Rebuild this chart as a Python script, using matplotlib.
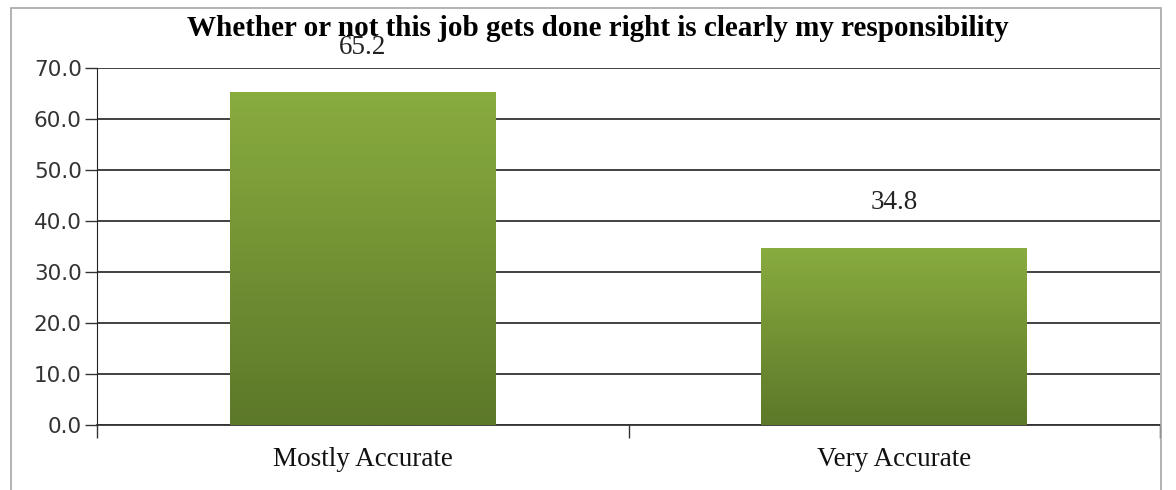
import numpy as np
import matplotlib.pyplot as plt
from matplotlib.patches import Rectangle
from matplotlib.colors import LinearSegmentedColormap

categories = ['Mostly Accurate', 'Very Accurate']
values = [65.2, 34.8]
yticks = [0, 10, 20, 30, 40, 50, 60, 70]

fig = plt.figure(figsize=(11.76, 4.9), dpi=100)
fig.patches.append(Rectangle((11/1176, -0.1), 1150/1176, 1.1 - 8/490, transform=fig.transFigure,
                             fill=False, edgecolor='#a6a6a6', linewidth=1.2))
ax = fig.add_axes([97/1176, 65/490, 1063/1176, 357/490])

x = np.arange(len(categories))
grad = LinearSegmentedColormap.from_list('g', ['#5c7829', '#89ac3f'])
bars = ax.bar(x, values, width=0.5, color='none', zorder=3)
for b in bars:
    x0, y0 = b.get_x(), b.get_y()
    w, h = b.get_width(), b.get_height()
    im = ax.imshow(np.linspace(0, 1, 256).reshape(-1, 1), cmap=grad, origin='lower',
                   extent=[x0, x0 + w, y0, y0 + h], aspect='auto', zorder=3)
    im.set_clip_path(b)

# value labels sit just under the title, as in the original
for xi, v in zip(x, values):
    ax.text(xi, v + 8.9, f'{v:.1f}', ha='center', va='center', fontsize=19.5,
            family='Liberation Serif', color='#222222', zorder=4)

ax.set_xlim(-0.5, 1.5)
ax.set_ylim(0, 70)
ax.set_yticks(yticks)
ax.set_yticklabels([f'{t:.1f}' for t in yticks], fontsize=15.5, color='#333333', family='DejaVu Sans')
ax.yaxis.grid(True, color='#333333', linewidth=1.3, zorder=0)
ax.set_axisbelow(True)

ax.set_xticks([-0.5, 0.5, 1.5])
ax.set_xticklabels([])
ax.set_xticks(x, minor=True)
ax.set_xticklabels(categories, minor=True, fontsize=19.5, family='Liberation Serif', color='#111111')
ax.tick_params(axis='x', which='minor', length=0, pad=16)
ax.tick_params(axis='x', which='major', length=9, width=1, color='#333333')
ax.tick_params(axis='y', length=9, width=1, color='#333333', pad=2)

for s in ['top', 'right']:
    ax.spines[s].set_visible(False)
ax.spines['left'].set_color('#222222')
ax.spines['bottom'].set_color('#333333')
ax.spines['bottom'].set_linewidth(1.3)

fig.text(598/1176, 1 - 28/490, 'Whether or not this job gets done right is clearly my responsibility',
         ha='center', va='center', fontsize=21, fontweight='bold', family='Liberation Serif')

fig.savefig('out.png', dpi=100)
